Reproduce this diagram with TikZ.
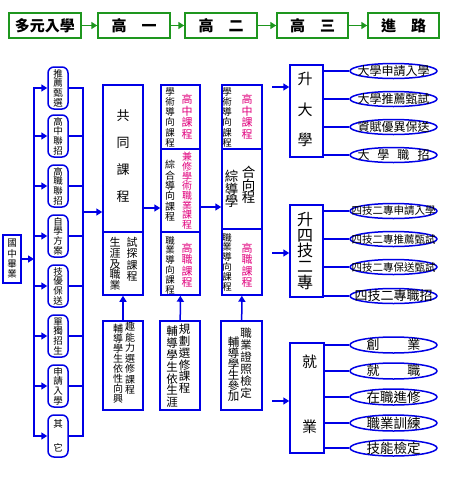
\documentclass[tikz,border=0pt]{standalone}
\usepackage{fontspec}
\setmainfont{Noto Sans CJK TC}
\usetikzlibrary{arrows.meta,shapes.geometric}
\definecolor{bl}{RGB}{0,0,230}
\definecolor{gr}{RGB}{30,150,30}
\definecolor{mg}{RGB}{225,0,125}
\newcommand{\fs}[2]{\fontsize{#1}{#2}\selectfont}
\begin{document}
\begin{tikzpicture}[x=1pt,y=-1pt,
 gbox/.style={draw=gr,line width=1.5pt,minimum width=72pt,minimum height=25pt,inner sep=0pt,font=\fs{15}{15}\bfseries},
 garr/.style={draw=gr,line width=1.5pt,-{Triangle[length=6pt,width=7pt]}},
 barr/.style={draw=bl,line width=1.5pt,-{Triangle[length=6pt,width=7pt]}},
 bline/.style={draw=bl,line width=1.5pt},
 pill/.style={draw=bl,line width=1.5pt,rounded corners=6pt,minimum width=20pt,minimum height=42pt,inner sep=0pt,align=center,font=\fs{9.5}{9.7}},
 rbox/.style={draw=bl,line width=1.5pt,inner sep=0pt},
 ell/.style={ellipse,draw=bl,line width=1.5pt,minimum width=87pt,minimum height=15pt,inner sep=0pt},
 etxt/.style={inner sep=0pt},
 vt/.style={align=center,inner sep=0pt},
 mgt/.style={vt,text=mg},
]
\path[fill=white,use as bounding box] (0,0) rectangle (450,480);

% top row
\node[gbox] (h0) at (45,25.5) {多元入學};
\node[gbox] (h1) at (134,25.5) {高\quad 一};
\node[gbox] (h2) at (221,25.5) {高\quad 二};
\node[gbox,minimum width=71pt] (h3) at (312.5,25.5) {高\quad 三};
\node[gbox,minimum width=71pt] (h4) at (403.5,25.5) {進\quad 路};
\draw[garr] (h0) -- (h1);
\draw[garr] (h1) -- (h2);
\draw[garr] (h2) -- (h3);
\draw[garr] (h3) -- (h4);

% left tree
\node[rbox,minimum width=18pt,minimum height=48pt,vt,font=\fs{9.5}{10.3}] (g) at (12,259) {國\\中\\畢\\業};
\coordinate (tt) at (34,88);
\coordinate (tb) at (34,436);
\draw[barr] (g.east) -- (g.east -| tt);
\draw[bline,line cap=rect] (tt) -- (tb);
\node[pill] (p1) at (58,88) {推\\薦\\甄\\選};
\node[pill] (p2) at (58,136) {高\\中\\聯\\招};
\node[pill] (p3) at (58,186) {高\\職\\聯\\招};
\node[pill] (p4) at (58,236) {自\\學\\方\\案};
\node[pill] (p5) at (58,286) {技\\優\\保\\送};
\node[pill] (p6) at (58,336) {單\\獨\\招\\生};
\node[pill] (p7) at (58,386) {申\\請\\入\\學};
\node[pill,font=\fs{9.5}{24}] (p8) at (58,436) {其\\它};
\coordinate (rt) at (83,88);
\coordinate (rb) at (83,436);
\coordinate (rm) at (83,212);
\foreach \p in {p1,p2,p3,p4,p5,p6,p7,p8}{
  \draw[barr] (\p.west -| tt) -- (\p.west);
  \draw[bline] (\p.east) -- (\p.east -| rt);
}
\draw[bline,line cap=rect] (rt) -- (rb);

% columns
\node[rbox,minimum width=40pt,minimum height=147pt] (c1a) at (123,158.5) {};
\node[rbox,minimum width=40pt,minimum height=63pt] (c1b) at (123,263.5) {};
\node[rbox,minimum width=39pt,minimum height=64pt] (c2a) at (180.5,117) {};
\node[rbox,minimum width=39pt,minimum height=83pt] (c2b) at (180.5,190.5) {};
\node[rbox,minimum width=39pt,minimum height=63pt] (c2c) at (180.5,263.5) {};
\node[rbox,minimum width=40pt,minimum height=64pt] (c3a) at (242,117) {};
\node[rbox,minimum width=40pt,minimum height=80pt] (c3b) at (242,189) {};
\node[rbox,minimum width=40pt,minimum height=66pt] (c3c) at (242,262) {};
\node[rbox,minimum width=40pt,minimum height=89pt] (b1) at (123,365.5) {};
\node[rbox,minimum width=40pt,minimum height=89pt] (b2) at (180,365.5) {};
\node[rbox,minimum width=41pt,minimum height=89pt] (b3) at (241.5,365.5) {};

\draw[barr] (rm) -- (rm -| c1a.west);
\coordinate (j12) at (0,208);
\coordinate (j23) at (0,207);
\draw[barr] (c1a.east |- j12) -- (c2b.west |- j12);
\draw[barr] (c2b.east |- j23) -- (c3b.west |- j23);
\draw[barr] (b1) -- (c1b);
\draw[barr] (b2) -- (c2c);
\draw[barr] (b3) -- (c3c);

% column texts
\node[vt,font=\fs{13}{27}] (t1a) at (123,156) {共\\同\\課\\程};
\node[vt,anchor=north,font=\fs{11}{10.8}] (t1b) at (115,237) {生\\涯\\及\\職\\業};
\node[vt,anchor=north,font=\fs{11}{11.3}] (t1c) at (132,237) {試\\探\\課\\程};

\node[vt,anchor=north,font=\fs{9.5}{10.3}] (t2a) at (170,87) {學\\術\\導\\向\\課\\程};
\node[mgt,anchor=north,font=\fs{11}{11.7}] (t2b) at (187,94) {高\\中\\課\\程};
\node[vt,anchor=north,font=\fs{10}{10.4}] (t2c) at (170,160) {綜\\合\\導\\向\\課\\程};
\node[mgt,anchor=north,font=\fs{10}{9.7}] (t2d) at (187,152) {兼\\修\\學\\術\\職\\業\\課\\程};
\node[vt,anchor=north,font=\fs{9.5}{9.8}] (t2e) at (170,236) {職\\業\\導\\向\\課\\程};
\node[mgt,anchor=north,font=\fs{11}{11.5}] (t2f) at (187,243) {高\\職\\課\\程};

\node[vt,anchor=north,font=\fs{9.5}{10.3}] (t3a) at (227,87) {學\\術\\導\\向\\課\\程};
\node[mgt,anchor=north,font=\fs{11}{11.7}] (t3b) at (247,94) {高\\中\\課\\程};
\node[vt,font=\fs{13.5}{12.8}] (t3c) at (231.5,189) {綜\\導\\學};
\node[vt,font=\fs{13.5}{12.8}] (t3d) at (248.5,185) {合\\向\\程};
\node[vt,anchor=north,font=\fs{9.5}{9.8}] (t3e) at (227,233) {職\\業\\導\\向\\課\\程};
\node[mgt,anchor=north,font=\fs{11}{11.5}] (t3f) at (247,243) {高\\職\\課\\程};

\node[vt,anchor=north,font=\fs{10}{10}] (u1a) at (118,324) {輔\\導\\學\\生\\依\\性\\向\\興};
\node[vt,anchor=north,font=\fs{10}{10.5}] (u1b) at (130,322) {趣\\能\\力\\選\\修\\課\\程};
\node[vt,anchor=north,font=\fs{11.5}{11.8}] (u2a) at (172,326) {輔\\導\\學\\生\\依\\生\\涯};
\node[vt,anchor=north,font=\fs{11.5}{11.8}] (u2b) at (184.5,324) {規\\劃\\選\\修\\課\\程};
\node[vt,anchor=north,font=\fs{11.5}{10.8}] (u3a) at (233.5,337) {輔\\導\\學\\生\\參\\加};
\node[vt,anchor=north,font=\fs{11.5}{12}] (u3b) at (246,328) {職\\業\\證\\照\\檢\\定};

% right boxes
\node[rbox,minimum width=33pt,minimum height=92pt] (r1) at (306.5,111) {};
\node[rbox,minimum width=33pt,minimum height=92pt] (r2) at (306.5,251) {};
\node[rbox,minimum width=34pt,minimum height=110pt] (r3) at (307,398) {};
\node[vt,font=\fs{15}{30.5}] (s1) at (305,109.5) {升\\大\\學};
\node[vt,font=\fs{16}{15.9}] (s2) at (305,251) {升\\四\\技\\二\\專};
\node[vt,font=\fs{15}{65}] (s3) at (309.5,394.5) {就\\業};

\coordinate (a1) at (272,87);
\coordinate (a2) at (272,253);
\coordinate (a3) at (272,401);
\draw[barr] (a1) -- (a1 -| r1.west);
\draw[barr] (a2) -- (a2 -| r2.west);
\draw[barr] (a3) -- (a3 -| r3.west);

% ellipses
\node[ell] (e1) at (393.5,71) {};
\node[ell] (e2) at (393.5,99) {};
\node[ell] (e3) at (393.5,127) {};
\node[ell] (e4) at (393.5,155) {};
\node[ell] (f1) at (393.5,211) {};
\node[ell] (f2) at (393.5,239) {};
\node[ell] (f3) at (393.5,267) {};
\node[ell] (f4) at (393.5,296) {};
\node[ell,minimum height=16pt] (g1) at (393.5,345) {};
\node[ell,minimum height=16pt] (g2) at (393.5,371) {};
\node[ell,minimum height=16pt] (g3) at (393.5,397) {};
\node[ell,minimum height=16pt] (g4) at (393.5,423) {};
\node[ell,minimum height=16pt] (g5) at (393.5,448) {};
\node[etxt,font=\fs{12}{12}] (e1t) at (e1) {大學申請入學};
\node[etxt,font=\fs{12}{12}] (e2t) at (e2) {大學推薦甄試};
\node[etxt,font=\fs{12}{12}] (e3t) at (e3) {資賦優異保送};
\node[etxt,font=\fs{12}{12}] (e4t) at (e4) {大\hspace{8pt}學\hspace{8pt}職\hspace{8pt}招};
\node[etxt,font=\fs{10.5}{10.5}] (f1t) at (f1) {四技二專申請入學};
\node[etxt,font=\fs{10.5}{10.5}] (f2t) at (f2) {四技二專推薦甄試};
\node[etxt,font=\fs{10.5}{10.5}] (f3t) at (f3) {四技二專保送甄試};
\node[etxt,font=\fs{13}{13}] (f4t) at (f4) {四技二專職招};
\node[etxt,font=\fs{13}{13}] (g1t) at (g1) {創\hspace{28pt}業};
\node[etxt,font=\fs{13}{13}] (g2t) at (g2) {就\hspace{28pt}職};
\node[etxt,font=\fs{13.5}{13.5}] (g3t) at (g3) {在職進修};
\node[etxt,font=\fs{13.5}{13.5}] (g4t) at (g4) {職業訓練};
\node[etxt,font=\fs{13.5}{13.5}] (g5t) at (g5) {技能檢定};
\foreach \e in {e1,e2,e3,e4}{\draw[bline] (\e.west -| r1.east) -- (\e.west);}
\foreach \e in {f1,f2,f3,f4}{\draw[bline] (\e.west -| r2.east) -- (\e.west);}
\foreach \e in {g1,g2,g3,g4,g5}{\draw[bline] (\e.west -| r3.east) -- (\e.west);}
\end{tikzpicture}
\end{document}
